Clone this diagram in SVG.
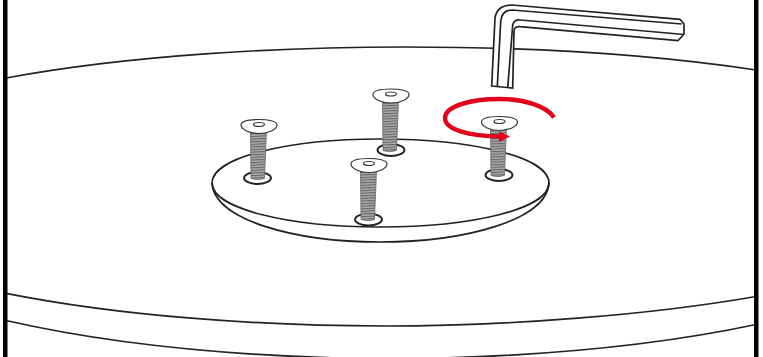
<svg xmlns="http://www.w3.org/2000/svg" xmlns:xlink="http://www.w3.org/1999/xlink" width="763" height="357" viewBox="0 0 763 357">
<style>
.l{fill:none;stroke:#222;stroke-width:1.7}
.hole{fill:#fff;stroke:#222;stroke-width:1.9}
.sh{fill:url(#th);stroke:#666;stroke-width:.8}
.h{fill:#fff;stroke:#333;stroke-width:1.200}
.r{fill:none;stroke:#e2001a;stroke-width:4.400}
</style>
<defs>
<pattern id="th" width="4" height="2.600" patternUnits="userSpaceOnUse" patternTransform="rotate(-3)"><rect width="4" height="2.600" fill="#aaa"/><rect width="4" height="1.100" fill="#666"/></pattern>
<ellipse id="hole" class="hole" cx="0" cy="0" rx="13.500" ry="6"/>
<path id="shank" class="sh" d="M-7.500-51H8.500L6.500-1.500Q-.5 1-7-1.500Z"/>
<g id="head">
<path class="h" d="M-18-1.500C-18-5.500-9-7 0-7S18-5.500 18-1.500C18 3 9 7 0 7S-18 3-18-1.500Z"/>
<ellipse class="h" cx="0" cy="-2" rx="5.500" ry="2"/>
</g>
</defs>
<rect width="763" height="357" fill="#fff"/>
<g id="table">
<path class="l" d="M6 78C130 55 280 47 405 47C530 47 650 54 756 70"/>
<path class="l" d="M6 293.300C120 316 260 326 385 326C510 326 650 315 756 296.500"/>
<path class="l" d="M6 320.500C100 342 220 357 385 359C520 358 650 347 756 324.500"/>
</g>
<g id="plate">
<path class="l" d="M212 183C212 157 290 139 380 139C472 139 549 157 549 183C549 209 472 227 380 227C290 227 212 209 212 183Z"/>
<path class="l" d="M212 183C214 220 295 242 380 242C465 242 547 220 549 183"/>
</g>
<g id="screw-1"><use xlink:href="#hole" x="257.500" y="178"/><use xlink:href="#shank" x="258" y="180"/><use xlink:href="#head" x="259" y="126.500"/></g>
<g id="screw-2"><use xlink:href="#hole" x="391" y="150"/><use xlink:href="#shank" x="390" y="152"/><use xlink:href="#head" x="391" y="96"/></g>
<g id="screw-3"><use xlink:href="#hole" x="368.500" y="219.500"/><use xlink:href="#shank" x="368" y="221"/><use xlink:href="#head" x="369" y="165.500"/></g>
<g id="screw-4"><use xlink:href="#hole" x="499" y="175"/><use xlink:href="#shank" x="498" y="177"/><use xlink:href="#head" x="499.500" y="123.500"/></g>
<g id="wrench">
<path fill="#fff" stroke="#222" stroke-width="1.700" d="M491.700 86L495 18Q497 5 512 5L680 19.300L684 24V34L678 40.700L520 26.700Q514 26 514 32L512.700 88Z"/>
<path class="l" d="M497.300 86.700L500.700 21Q502 10 512 10L681.700 24M507.700 87.700L512.700 25Q514 19 521 20L684 34.500"/>
</g>
<g id="rotation">
<path class="r" d="M554 117.500C546 105 522 99 500 99C468 99 445 107 445 118C445 130 470 136 501 136.500"/>
<path fill="#e2001a" d="M499 131.500L510 136.500L499 142Z"/>
</g>
<g id="frame" fill="#000"><rect x="3" width="4.500" height="357"/><rect x="754" width="4.500" height="357"/></g>
</svg>
